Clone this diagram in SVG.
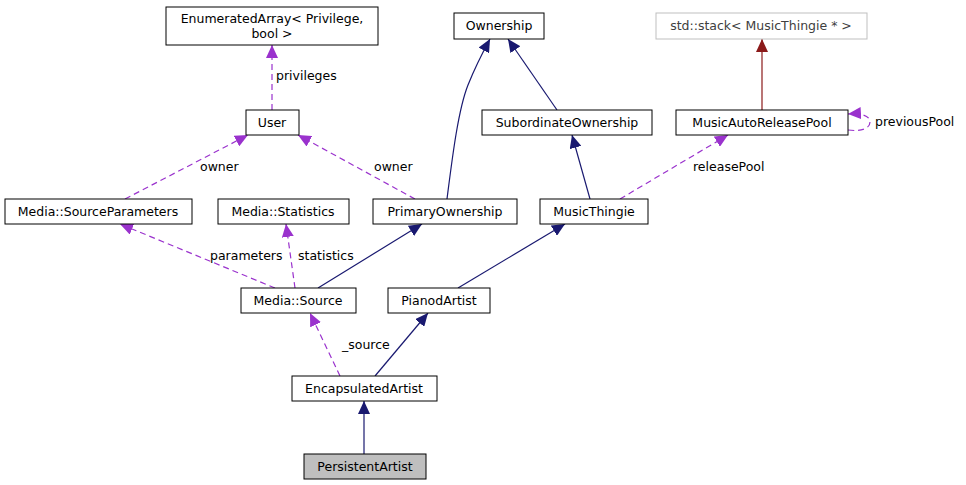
<svg xmlns="http://www.w3.org/2000/svg" width="966" height="485" viewBox="0 0 966 485">
<style>
.n rect{fill:#fff;stroke:#000;stroke-width:1}
text{font-family:"DejaVu Sans",sans-serif;font-size:12.5px;fill:#000}
.c{text-anchor:middle}
.s{fill:none;stroke:#191970;stroke-width:1.2}
.d{fill:none;stroke:#9a32cd;stroke-width:1.2;stroke-dasharray:6,4}
.r{fill:none;stroke:#8b1a1a;stroke-width:1.2}
</style>
<defs>
<marker id="as" markerUnits="userSpaceOnUse" markerWidth="14" markerHeight="12" refX="13" refY="6" orient="auto"><path d="M0,0L13,6L0,12z" fill="#191970"/></marker>
<marker id="ad" markerUnits="userSpaceOnUse" markerWidth="14" markerHeight="12" refX="13" refY="6" orient="auto"><path d="M0,0L13,6L0,12z" fill="#9a32cd"/></marker>
<marker id="ar" markerUnits="userSpaceOnUse" markerWidth="14" markerHeight="12" refX="13" refY="6" orient="auto"><path d="M0,0L13,6L0,12z" fill="#8b1a1a"/></marker>
</defs>
<g id="connectors">
<path class="d" marker-end="url(#ad)" d="M272,110L272,45"/>
<text x="276" y="80">privileges</text>
<path class="d" marker-end="url(#ad)" d="M125,199L248,135"/>
<text x="200" y="171">owner</text>
<path class="d" marker-end="url(#ad)" d="M415,199L298,135"/>
<text x="374" y="171">owner</text>
<path class="s" marker-end="url(#as)" d="M447,199C452,160 458,110 468,85C476,65 484,50 490,39"/>
<path class="s" marker-end="url(#as)" d="M557,110L508,39"/>
<path class="r" marker-end="url(#ar)" d="M762,110L762,39"/>
<path class="d" marker-end="url(#ad)" d="M848,130C862,132 870,128 870,122C870,116 862,113 848,114"/>
<text x="875" y="126">previousPool</text>
<path class="d" marker-end="url(#ad)" d="M620,199L728,135"/>
<text x="693" y="171">releasePool</text>
<path class="s" marker-end="url(#as)" d="M590,199L572,135"/>
<path class="d" marker-end="url(#ad)" d="M275,288L120,224"/>
<text x="210" y="260">parameters</text>
<path class="d" marker-end="url(#ad)" d="M295,288L286,224"/>
<text x="298" y="260">statistics</text>
<path class="s" marker-end="url(#as)" d="M318,288L422,224"/>
<path class="s" marker-end="url(#as)" d="M458,288L565,224"/>
<path class="d" marker-end="url(#ad)" d="M340,376L310,313"/>
<text x="342" y="349">_source</text>
<path class="s" marker-end="url(#as)" d="M375,376L428,313"/>
<path class="s" marker-end="url(#as)" d="M364,454L364,401"/>
</g>
<g id="EnumeratedArray" class="n"><rect x="166" y="7" width="212" height="38"/><text class="c" x="272" y="23">EnumeratedArray&lt; Privilege,</text><text class="c" x="272" y="38">bool &gt;</text></g>
<g id="Ownership" class="n"><rect x="454" y="13" width="90" height="26"/><text class="c" x="499" y="30">Ownership</text></g>
<g id="stack" class="n"><rect x="656" y="13" width="211" height="26" style="stroke:#bfbfbf"/><text class="c" x="761" y="30" style="fill:#404040">std::stack&lt; MusicThingie * &gt;</text></g>
<g id="User" class="n"><rect x="246" y="110" width="53" height="25"/><text class="c" x="272" y="127">User</text></g>
<g id="SubordinateOwnership" class="n"><rect x="482" y="110" width="170" height="25"/><text class="c" x="567" y="127">SubordinateOwnership</text></g>
<g id="MusicAutoReleasePool" class="n"><rect x="676" y="110" width="172" height="25"/><text class="c" x="762" y="127">MusicAutoReleasePool</text></g>
<g id="SourceParameters" class="n"><rect x="5" y="199" width="187" height="25"/><text class="c" x="98" y="216">Media::SourceParameters</text></g>
<g id="Statistics" class="n"><rect x="218" y="199" width="131" height="25"/><text class="c" x="283" y="216">Media::Statistics</text></g>
<g id="PrimaryOwnership" class="n"><rect x="373" y="199" width="144" height="25"/><text class="c" x="445" y="216">PrimaryOwnership</text></g>
<g id="MusicThingie" class="n"><rect x="540" y="199" width="108" height="25"/><text class="c" x="594" y="216">MusicThingie</text></g>
<g id="Source" class="n"><rect x="241" y="288" width="115" height="25"/><text class="c" x="298" y="305">Media::Source</text></g>
<g id="PianodArtist" class="n"><rect x="388" y="288" width="102" height="25"/><text class="c" x="439" y="305">PianodArtist</text></g>
<g id="EncapsulatedArtist" class="n"><rect x="292" y="376" width="145" height="25"/><text class="c" x="364" y="393">EncapsulatedArtist</text></g>
<g id="PersistentArtist" class="n"><rect x="304" y="454" width="122" height="25" style="fill:#bfbfbf"/><text class="c" x="365" y="471">PersistentArtist</text></g>
</svg>
